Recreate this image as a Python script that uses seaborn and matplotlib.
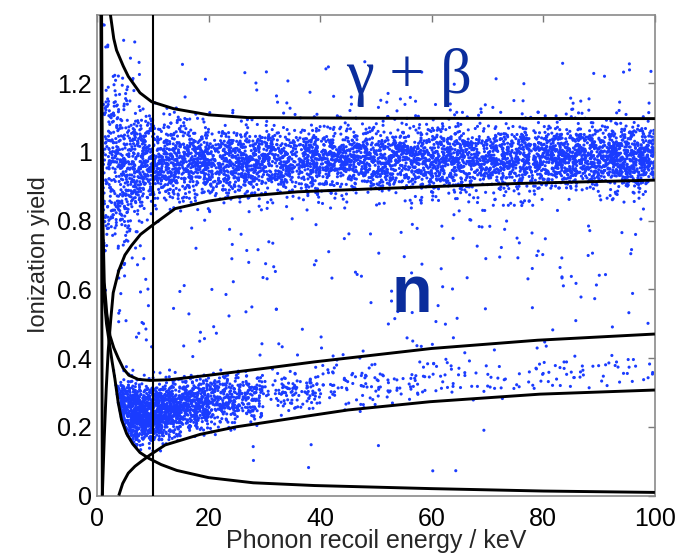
import numpy as np
import pandas as pd
import matplotlib
matplotlib.use("Agg")
import matplotlib.pyplot as plt
import seaborn as sns
from statistics import NormalDist

# ---------------- data ----------------
# gamma (electron recoil) population, per energy bin
gamma_e_lo = [1, 2, 4, 6, 8, 10, 15, 20, 30, 40, 50, 60, 70, 80, 90]
gamma_e_hi = [2, 4, 6, 8, 10, 15, 20, 30, 40, 50, 60, 70, 80, 90, 100]
gamma_count = [60, 150, 150, 140, 140, 300, 280, 500, 480, 470, 470, 480, 500, 560, 600]
gamma_center = [0.95, 0.96, 0.96, 0.965, 0.97, 0.97, 0.97, 0.97, 0.975, 0.975, 0.975, 0.98, 0.98, 0.985, 0.985]
gamma_sigma = [0.18, 0.13, 0.10, 0.085, 0.07, 0.06, 0.055, 0.05, 0.05, 0.048, 0.048, 0.047, 0.047, 0.045, 0.045]

# nuclear recoil population, per energy bin
nuc_e_lo = [2.5, 4, 6, 8, 10, 12.5, 15, 20, 25, 30, 40, 50, 60, 70, 80, 90]
nuc_e_hi = [4, 6, 8, 10, 12.5, 15, 20, 25, 30, 40, 50, 60, 70, 80, 90, 100]
nuc_count = [110, 240, 260, 250, 280, 230, 320, 190, 130, 110, 60, 45, 30, 25, 25, 20]
nuc_center = [0.25, 0.24, 0.235, 0.235, 0.245, 0.25, 0.265, 0.28, 0.29, 0.305, 0.32, 0.33, 0.345, 0.35, 0.355, 0.36]
nuc_sigma = [0.05, 0.05, 0.045, 0.042, 0.04, 0.04, 0.038, 0.036, 0.035, 0.034, 0.033, 0.033, 0.033, 0.032, 0.032, 0.032]

# isolated events outside the bands (rectangular regions)
bg_e_lo = [10, 3, 10, 10, 15, 1]
bg_e_hi = [100, 10, 100, 100, 80, 10]
bg_y_lo = [0.38, 0.40, 1.10, 1.16, 0.05, 1.12]
bg_y_hi = [0.86, 0.75, 1.16, 1.27, 0.20, 1.35]
bg_count = [160, 25, 50, 25, 8, 12]

# band boundary curves (keV, yield)
gup_e = [2.4, 3.0, 3.5, 4.7, 5.6, 7.7, 9.8, 13.7, 20, 27, 50, 100]
gup_y = [1.40, 1.33, 1.296, 1.25, 1.22, 1.172, 1.146, 1.126, 1.108, 1.100, 1.098, 1.097]
glo_e = [0.95, 1.3, 1.65, 2.0, 2.45, 2.9, 3.9, 5.0, 6.2, 7.8, 9.8, 14, 20, 25, 36, 50, 75, 100]
glo_y = [0.0, 0.17, 0.31, 0.42, 0.51, 0.59, 0.655, 0.70, 0.728, 0.76, 0.785, 0.835, 0.857, 0.869, 0.884, 0.893, 0.908, 0.918]
nup_e = [0.82, 0.92, 1.05, 1.3, 1.75, 2.33, 3.0, 3.8, 4.7, 5.7, 7.4, 9.5, 13, 20, 30, 39, 60, 79, 100]
nup_y = [1.40, 1.05, 0.80, 0.62, 0.53, 0.465, 0.43, 0.40, 0.37, 0.35, 0.338, 0.335, 0.337, 0.35, 0.37, 0.389, 0.428, 0.452, 0.47]
nlo_e = [3.9, 4.6, 5.6, 6.8, 8.0, 9.5, 12.2, 18.5, 25, 38.8, 45, 59.7, 79.4, 100]
nlo_y = [0.0, 0.035, 0.065, 0.085, 0.10, 0.118, 0.147, 0.178, 0.20, 0.234, 0.249, 0.273, 0.295, 0.307]
thr_e = [0.76, 0.82, 0.9, 1.05, 1.3, 1.7, 2.2, 2.7, 3.2, 3.8, 4.4, 5.3, 6.4, 7.7, 9.3, 11.5, 14.3, 20, 28, 39, 60, 80, 100]
thr_y = [1.40, 1.10, 0.85, 0.68, 0.57, 0.50, 0.445, 0.39, 0.34, 0.27, 0.22, 0.18, 0.15, 0.125, 0.108, 0.09, 0.073, 0.052, 0.037, 0.029, 0.02, 0.013, 0.009]
heat_e = [0.72, 0.95]
heat_y = [1.40, 0.0]
cut_energy = 10

x_ticks = [0, 20, 40, 60, 80, 100]
y_ticks = [0, 0.2, 0.4, 0.6, 0.8, 1.0, 1.2]
y_tick_labels = ["0", "0.2", "0.4", "0.6", "0.8", "1", "1.2"]

# ---------------- build point cloud (deterministic hash spread inside each read bin) ----------------
_inv = np.vectorize(NormalDist().inv_cdf)
_state = {"off": 1}


def _hash01(i, k):
    return np.modf(np.abs(np.sin(i * 12.9898 + k * 78.233)) * 43758.5453)[0]


def seq(n):
    i = np.arange(_state["off"], _state["off"] + n, dtype=float)
    _state["off"] += n
    return _hash01(i, 1.0), _hash01(i, 2.7)


xs, ys = [], []
for lo, hi, n, c, s in zip(gamma_e_lo, gamma_e_hi, gamma_count, gamma_center, gamma_sigma):
    u, v = seq(n)
    xs.append(lo + (hi - lo) * u)
    ys.append(c + s * _inv(np.clip(v, 0.002, 0.998)))
for lo, hi, n, c, s in zip(nuc_e_lo, nuc_e_hi, nuc_count, nuc_center, nuc_sigma):
    u, v = seq(n)
    x = lo + (hi - lo) * u
    y = c + s * _inv(np.clip(v, 0.002, 0.998))
    keep = y > np.interp(x, thr_e, thr_y)
    xs.append(x[keep])
    ys.append(y[keep])
for elo, ehi, ylo, yhi, n in zip(bg_e_lo, bg_e_hi, bg_y_lo, bg_y_hi, bg_count):
    u, v = seq(n)
    xs.append(elo + (ehi - elo) * u)
    ys.append(ylo + (yhi - ylo) * v)

df = pd.DataFrame({"E": np.concatenate(xs), "Y": np.concatenate(ys)})

# ---------------- plot ----------------
sns.set_theme(style="white")
plt.rcParams["font.family"] = ["Liberation Sans", "DejaVu Sans"]

fig = plt.figure(figsize=(6.93, 5.58), dpi=100)
ax = fig.add_axes([0.140, 0.112, 0.805, 0.862])

sns.scatterplot(data=df, x="E", y="Y", s=5, color="#1a3cff", linewidth=0,
                edgecolor="none", ax=ax, zorder=2)

line_kw = dict(color="black", lw=2.1, solid_capstyle="butt", zorder=3)
for ex, yy in [(gup_e, gup_y), (glo_e, glo_y), (nup_e, nup_y), (nlo_e, nlo_y),
               (thr_e, thr_y), (heat_e, heat_y)]:
    ax.plot(ex, yy, **line_kw)
ax.axvline(cut_energy, color="black", lw=1.5, zorder=3)

ax.set_xlim(0, 100)
ax.set_ylim(0, 1.4)
ax.set_xticks(x_ticks)
ax.set_yticks(y_ticks)
ax.set_yticklabels(y_tick_labels)
ax.tick_params(direction="in", length=5, width=1, colors="#7a7a7a",
               labelcolor="black", labelsize=18, top=True, right=True)
ax.tick_params(axis="x", pad=8)
ax.tick_params(axis="y", pad=3.5)
for sp in ax.spines.values():
    sp.set_color("#8a8a8a")
    sp.set_linewidth(1.2)

ax.set_xlabel("Phonon recoil energy / keV", fontsize=18, labelpad=-1)
ax.set_ylabel("Ionization yield", fontsize=17, labelpad=5)

ax.text(55.9, 1.171, "γ + β", fontsize=45, color="#0b2d9c", ha="center",
        va="baseline", family=["Liberation Serif", "DejaVu Serif"], zorder=4)
ax.text(56.4, 0.535, "n", fontsize=48, color="#0b2d9c", ha="center",
        va="baseline", fontweight="bold", zorder=4)

fig.savefig("out.png", dpi=100, facecolor="white")
